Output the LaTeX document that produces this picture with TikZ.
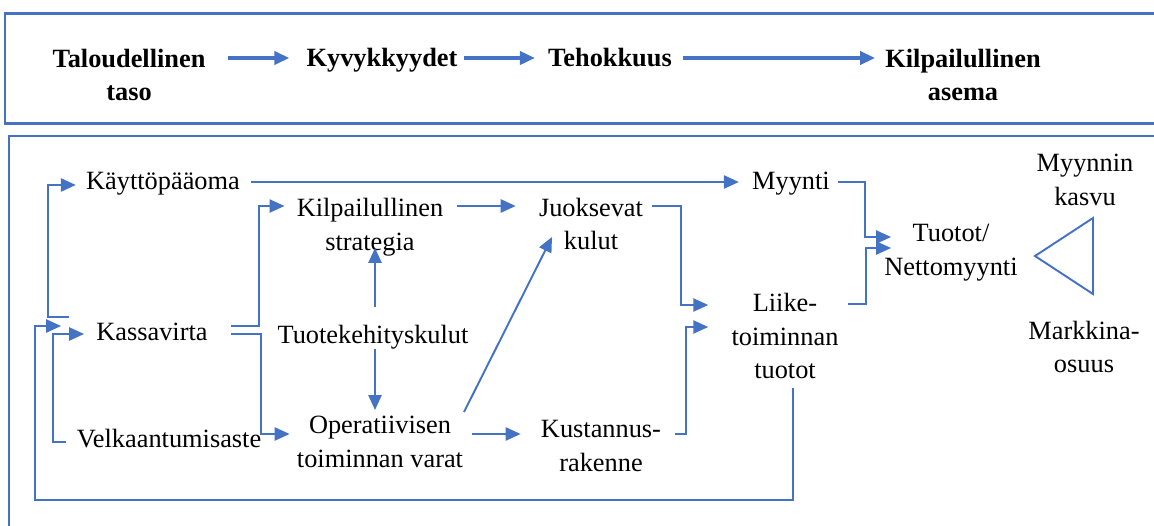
\documentclass[tikz,border=0pt]{standalone}
\usepackage{fontspec}
\setmainfont{Liberation Serif}
\usetikzlibrary{arrows.meta}
\definecolor{lineblue}{RGB}{68,114,196}
\begin{document}
\begin{tikzpicture}[x=0.02cm,y=-0.02cm,
  txt/.style={font=\fontsize{15pt}{19.3pt}\selectfont, align=center, inner sep=0pt},
  toptxt/.style={font=\fontsize{15pt}{19.3pt}\selectfont\bfseries, align=center, inner sep=0pt},
  conn/.style={draw=lineblue, line width=1.1pt, -{Triangle[length=8.5pt,width=7.5pt]}},
  topconn/.style={draw=lineblue, line width=1.9pt, -{Triangle[length=8.5pt,width=7.5pt]}},
  framebox/.style={draw=lineblue}]
\clip (0,0) rectangle (1154,525);
% frames
\draw[framebox, line width=1.7pt] (5,13.7) rectangle (1170,123.3);
\draw[framebox, line width=1.1pt] (8.7,136) rectangle (1170,560);
% top row
\node[toptxt] (tal) at (129,75) {Taloudellinen\\taso};
\node[toptxt] (kyv) at (382,60) {Kyvykkyydet};
\node[toptxt] (teh) at (610,58) {Tehokkuus};
\node[toptxt] (kilp) at (963,75) {Kilpailullinen\\asema};
\draw[topconn] ([shift={(22,-17)}]tal.east) -- ([shift={(-17,-2)}]kyv.west);
\draw[topconn] ([shift={(6,-2)}]kyv.east) -- ([shift={(-13,0)}]teh.west);
\draw[topconn] ([shift={(11,0)}]teh.east) -- ([shift={(-10,-17)}]kilp.west);
% body nodes
\node[txt] (kaytto) at (163,184) {Käyttöpääoma};
\node[txt] (myynti) at (791,184) {Myynti};
\node[txt] (strat) at (370,227) {Kilpailullinen\\strategia};
\node[txt] (juok) at (591,224) {Juoksevat\\kulut};
\node[txt] (tuotot) at (951,253) {Tuotot/\\Nettomyynti};
\node[txt] (mkasvu) at (1085,180) {Myynnin\\kasvu};
\node[txt] (mosuus) at (1084,347) {Markkina-\\osuus};
\node[txt] (kass) at (152,332) {Kassavirta};
\node[txt] (tkk) at (373,337) {Tuotekehityskulut};
\node[txt] (velk) at (169,439) {Velkaantumisaste};
\node[txt] (oper) at (380,442) {Operatiivisen\\toiminnan varat};
\node[txt] (kust) at (601,446) {Kustannus-\\rakenne};
\node[txt] (liike) at (785,336) {Liike-\\toiminnan\\tuotot};
% triangle
\draw[lineblue, line width=1.1pt] (1093,218) -- (1035,256) -- (1093,294) -- cycle;
% connectors
\draw[conn] ([shift={(11,-2)}]kaytto.east) -- ([shift={(-13,-2)}]myynti.west);
\draw[conn] ([shift={(-27,-15)}]kass.west) -| ([shift={(-38,1)}]kaytto.west) -- ([shift={(-10,1)}]kaytto.west);
\draw[conn] ([shift={(8,52)}]liike.center) |- (35,500) |- ([shift={(-35,-6)}]kass.west);
\draw[conn] ([shift={(-10,3)}]velk.west) -- ++(-13,0) |- ([shift={(-12,2)}]kass.west);
\draw[conn] ([shift={(23,-6)}]kass.east) -- ++(28,0) |- ([shift={(-12,-21)}]strat.west);
\draw[conn] ([shift={(23,2)}]kass.east) -- ++(30,0) |- ([shift={(-7,-8)}]oper.west);
\draw[conn] ([shift={(2,-30)}]tkk.center) -- ++(0,-59);
\draw[conn] ([shift={(2,12)}]tkk.center) -- ++(0,61);
\draw[conn] ([shift={(13,-21)}]strat.east) -- ([shift={(-23,-18)}]juok.west);
\draw[conn] ([shift={(84,-30)}]oper.center) -- ([shift={(-39,13)}]juok.center);
\draw[conn] ([shift={(9,-8)}]oper.east) -- ([shift={(-20,-12)}]kust.west);
\draw[conn] ([shift={(9,-18)}]juok.east) -- ++(29,0) |- ([shift={(-23,-31)}]liike.west);
\draw[conn] ([shift={(14,-12)}]kust.east) -- ++(11,0) |- ([shift={(-23,-9)}]liike.west);
\draw[conn] ([shift={(8,-2)}]myynti.east) -- ++(27,0) |- ([shift={(7,-16)}]tuotot.west);
\draw[conn] ([shift={(9,-32)}]liike.east) -- ++(18,0) |- ([shift={(7,-5)}]tuotot.west);
\end{tikzpicture}
\end{document}
